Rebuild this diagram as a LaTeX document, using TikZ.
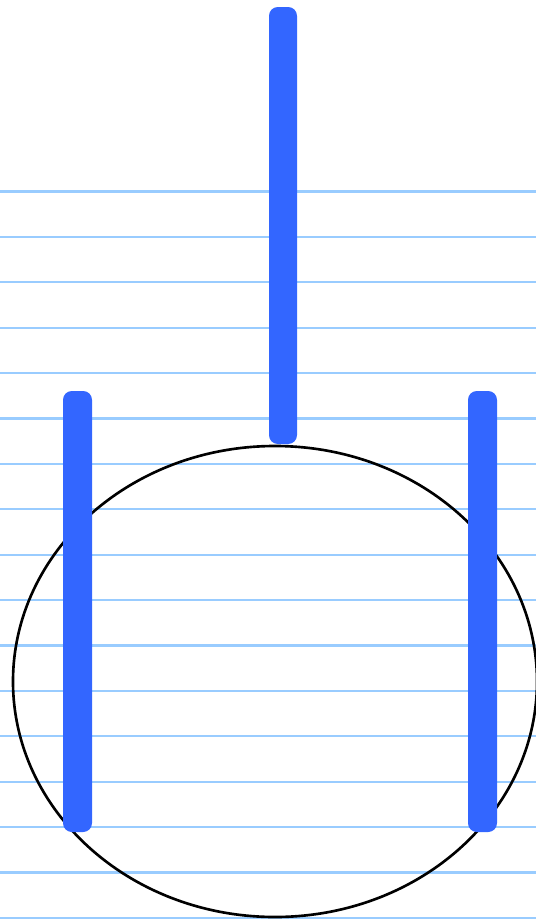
\documentclass[tikz,border=0pt]{standalone}
\definecolor{barblue}{RGB}{51,102,255}
\definecolor{ruleblue}{RGB}{153,204,255}
\tikzset{
  bar/.style={fill=barblue, draw=none, rounded corners=5},
  ruling/.style={draw=ruleblue, line width=1.3pt}
}
\begin{document}
\begin{tikzpicture}[x=0.02cm, y=-0.02cm]
    \useasboundingbox (0,0) rectangle (536,924);
    \foreach \k in {0,...,16} {
        \draw[ruling] (0,{191.5+45.4*\k}) -- (536,{191.5+45.4*\k});
    }
    \draw[line width=1.5pt, black] (275,681.5) ellipse (262 and 235.5);
    \fill[bar] (269,7) rectangle (297,444);
    \fill[bar] (63,391) rectangle (92,832);
    \fill[bar] (468,391) rectangle (497,832);
\end{tikzpicture}
\end{document}
